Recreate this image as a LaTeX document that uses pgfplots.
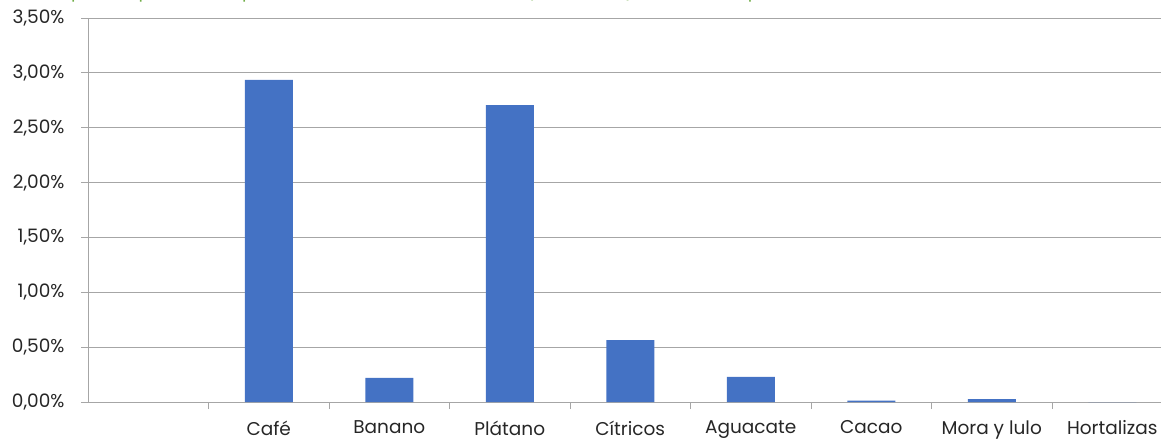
\documentclass[border=0pt]{standalone}
\usepackage{fontspec}
\setmainfont{Poppins}
\usepackage{pgfplots}
\pgfplotsset{compat=1.18}
\definecolor{barblue}{RGB}{68,114,196}
\definecolor{gridgray}{RGB}{166,166,166}
\definecolor{titlegreen}{RGB}{112,173,71}
\begin{document}
\begin{tikzpicture}[x=1pt,y=1pt]
\begin{axis}[
  at={(88pt,38pt)}, anchor=south west,
  scale only axis, width=1084.5pt, height=384pt,
  xmin=-0.5, xmax=8.5, ymin=0, ymax=3.5,
  axis lines*=left,
  axis line style={gridgray, line width=1pt},
  ybar, bar width=48pt,
  xtick={0,...,8},
  xticklabels={,Café,Banano,Plátano,Cítricos,Aguacate,Cacao,Mora y lulo,Hortalizas},
  major x tick style={draw=none},
  minor xtick={0.5,1.5,...,7.5},
  minor x tick style={gridgray, line width=1pt},
  minor tick length=7pt,
  ytick={0,0.5,...,3.5},
  ymajorgrids,
  grid style={gridgray, line width=1pt},
  major y tick style={gridgray, line width=1pt},
  major tick length=7pt,
  tick align=outside,
  yticklabel={\pgfmathprintnumber[fixed,fixed zerofill,precision=2,use comma,assume math mode=true]{\tick}\%},
  ticklabel style={font=\fontsize{18.5}{21}\selectfont, text=black!85},
  xticklabel style={yshift=-8pt},
  yticklabel style={xshift=-13pt},
]
\addplot[fill=barblue, draw=none] coordinates {
  (1,2.935) (2,0.219) (3,2.707) (4,0.565) (5,0.228) (6,0.012) (7,0.027) (8,0)
};
\end{axis}
\node[anchor=base west, text=titlegreen, font=\fontsize{18}{21}\selectfont] at (12,442)
  {Participación porcentual por cultivo en el área cultivada (hectáreas) en el municipio};
\pgfresetboundingbox
\useasboundingbox (0,0) rectangle (1161,440);
\end{tikzpicture}
\end{document}
